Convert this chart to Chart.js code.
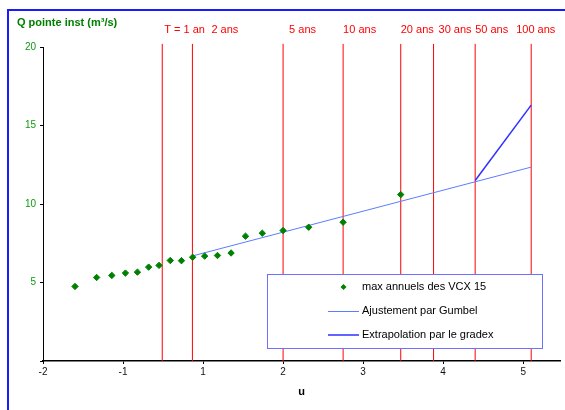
<!DOCTYPE html>
<html>
<head>
<meta charset="utf-8">
<script src="https://cdn.jsdelivr.net/npm/chart.js@4/dist/chart.umd.min.js"></script>
<style>
  html, body { margin: 0; padding: 0; background: #fff; }
  #wrap { width: 565px; height: 410px; }
</style>
</head>
<body>
<div id="wrap"><canvas id="gumbelChart" width="565" height="410"></canvas></div>
<script>
// annual maxima (reduced variable u, as plotted) and discharge
const uObs = [-0.6, -0.33, -0.14, 0.03, 0.18, 0.32, 0.45, 0.59, 0.73, 0.87, 1.02, 1.18, 1.35, 1.53, 1.74, 2.0, 2.32, 2.75, 3.47];
const qObs = [4.75, 5.32, 5.45, 5.6, 5.66, 5.98, 6.09, 6.4, 6.39, 6.61, 6.68, 6.72, 6.88, 7.95, 8.14, 8.31, 8.52, 8.84, 10.6];

// Gumbel fit and gradex extrapolation
const uFit = [0.867, 5.1];
const qFit = [6.69, 12.35];
const uGradex = [4.4, 5.1];
const qGradex = [11.5, 16.3];

// return periods
const periodLabels = ["T = 1 an", "2 ans", "5 ans", "10 ans", "20 ans", "30 ans", "50 ans", "100 ans"];
const periodU = [0.49, 0.867, 2.0, 2.75, 3.47, 3.88, 4.4, 5.1];

// x axis ticks
const xTickValues = [-1, 0, 1, 2, 3, 4, 5];
const xTickLabels = ["-2", "-1", "1", "2", "3", "4", "5"];

const FONT = "'Liberation Sans', Arial, sans-serif";
const RED = "#ff0000";
const GREEN = "#008000";
const FIT_BLUE = "#5b7cff";
const GRADEX_BLUE = "#2f2fff";

// label offsets in px from each return period line
const periodLabelDx = [2, 19, 6, 0, 0, 5, 0, -15];

const toPts = (xs, ys) => xs.map((x, i) => ({ x: x, y: ys[i] }));

const periodSets = periodU.map((u) => ({
  type: "line",
  data: [{ x: u, y: 0 }, { x: u, y: 20.2 }],
  borderColor: RED,
  borderWidth: 1,
  pointRadius: 0,
  clip: false,
  order: 3,
}));

const decorations = {
  id: "decorations",
  beforeDraw(chart) {
    const c = chart.ctx;
    c.save();
    c.strokeStyle = "#1a1aff";
    c.lineWidth = 2;
    c.strokeRect(8, 10, 700, 500);
    // y title
    c.fillStyle = GREEN;
    c.font = "bold 11px " + FONT;
    c.textBaseline = "middle";
    c.fillText("Q pointe inst (m³/s)", 17, 23);
    c.restore();
  },
  afterDatasetsDraw(chart) {
    const c = chart.ctx;
    const xs = chart.scales.x;
    c.save();
    // return period labels
    c.fillStyle = RED;
    c.font = "11px " + FONT;
    c.textBaseline = "middle";
    periodLabels.forEach((t, i) => {
      c.fillText(t, xs.getPixelForValue(periodU[i]) + periodLabelDx[i], 30);
    });

    // legend box
    c.fillStyle = "#fff";
    c.fillRect(267, 274, 276, 75);
    c.strokeStyle = "#7070ff";
    c.lineWidth = 1;
    c.strokeRect(267.5, 274.5, 275, 74);

    c.fillStyle = "#000";
    c.font = "11px " + FONT;
    c.fillText("max annuels des VCX 15", 362, 287);
    c.fillText("Ajustement par Gumbel", 362, 311);
    c.fillText("Extrapolation par le gradex", 362, 335);

    c.fillStyle = GREEN;
    c.beginPath();
    c.moveTo(343.5, 284);
    c.lineTo(346.5, 287);
    c.lineTo(343.5, 290);
    c.lineTo(340.5, 287);
    c.closePath();
    c.fill();

    c.strokeStyle = FIT_BLUE;
    c.lineWidth = 1;
    c.beginPath();
    c.moveTo(328, 311.5);
    c.lineTo(359, 311.5);
    c.stroke();

    c.strokeStyle = GRADEX_BLUE;
    c.lineWidth = 1.5;
    c.beginPath();
    c.moveTo(328, 335);
    c.lineTo(359, 335);
    c.stroke();
    c.restore();
  },
};

new Chart(document.getElementById("gumbelChart").getContext("2d"), {
  type: "scatter",
  data: {
    datasets: [
      {
        label: "max annuels des VCX 15",
        data: toPts(uObs, qObs),
        pointStyle: "rectRot",
        pointRadius: 3.2,
        backgroundColor: GREEN,
        borderColor: GREEN,
        borderWidth: 1,
        order: 0,
      },
      {
        type: "line",
        label: "Ajustement par Gumbel",
        data: toPts(uFit, qFit),
        borderColor: FIT_BLUE,
        borderWidth: 1,
        pointRadius: 0,
        order: 1,
      },
      {
        type: "line",
        label: "Extrapolation par le gradex",
        data: toPts(uGradex, qGradex),
        borderColor: GRADEX_BLUE,
        borderWidth: 1.5,
        pointRadius: 0,
        order: 2,
      },
      ...periodSets,
    ],
  },
  options: {
    responsive: false,
    animation: false,
    devicePixelRatio: 1,
    layout: { padding: { top: 47, right: 2, left: 0, bottom: 0 } },
    plugins: {
      legend: { display: false },
      tooltip: { enabled: false },
    },
    scales: {
      x: {
        type: "linear",
        min: -1,
        max: 5.46,
        afterBuildTicks: (s) => {
          s.ticks = xTickValues.map((v) => ({ value: v }));
        },
        afterFit: (s) => {
          s.height = 49;
        },
        border: { color: "#000", width: 1.5 },
        grid: { drawOnChartArea: false, tickLength: 3, color: "#000" },
        ticks: {
          color: "#111",
          font: { family: FONT, size: 10 },
          padding: 2,
          maxRotation: 0,
          callback: (v, i) => xTickLabels[i],
        },
        title: {
          display: true,
          text: "u",
          color: "#000",
          font: { family: FONT, size: 11, weight: "bold" },
          padding: { top: 0, bottom: 11 },
        },
      },
      y: {
        min: 0,
        max: 20,
        afterFit: (s) => {
          s.width = 43;
        },
        border: { color: "#000", width: 1 },
        grid: { drawOnChartArea: false, tickLength: 3, color: "#000" },
        ticks: {
          stepSize: 5,
          color: "#109910",
          font: { family: FONT, size: 10 },
          padding: 4,
          callback: (v) => (v === 0 ? "" : v),
        },
      },
    },
  },
  plugins: [decorations],
});
</script>
</body>
</html>
